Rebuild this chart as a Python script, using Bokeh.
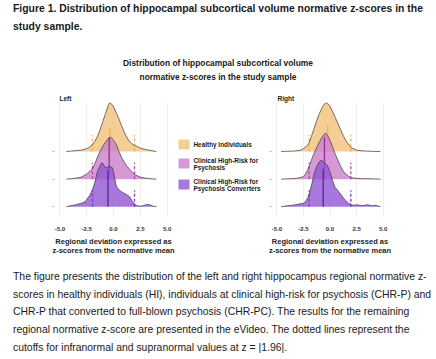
import numpy as np
from bokeh.plotting import figure
from bokeh.models import Div, FixedTicker, Range1d, PrintfTickFormatter
from bokeh.core.properties import value
from bokeh.layouts import column, row
from bokeh.embed import file_html
from bokeh.resources import INLINE

# ---------------- data ----------------
groups = ["Healthy Individuals",
          "Clinical High-Risk for\nPsychosis",
          "Clinical High-Risk for\nPsychosis Converters"]
group_rows = [2, 1, 0]
x_ticks = [-5.0, -2.5, 0.0, 2.5, 5.0]
cutoff = 1.96
cutoff_height = 0.145

# Left hippocampus: z grid and density per group
left_hi_z = [-4.4, -4.0, -3.5, -3.0, -2.5, -2.25, -2.0, -1.75, -1.5, -1.25, -1.0, -0.75, -0.5, -0.35,
             -0.25, 0.0, 0.25, 0.5, 0.75, 1.0, 1.25, 1.5, 1.75, 2.0, 2.5, 3.0, 3.5, 4.0]
left_hi_d = [0, .004, .009, .013, .026, .039, .057, .088, .132, .193, .263, .333, .404, .430,
             .425, .395, .342, .289, .228, .171, .123, .088, .066, .053, .031, .018, .009, 0]

left_chrp_z = [-4.4, -4.0, -3.5, -3.0, -2.5, -2.0, -1.75, -1.5, -1.25, -1.0, -0.75, -0.5, -0.25,
               0.0, 0.25, 0.5, 0.75, 1.0, 1.25, 1.5, 1.75, 2.0, 2.5, 3.0, 3.5, 4.0]
left_chrp_d = [0, .004, .009, .018, .044, .088, .132, .193, .246, .289, .325, .355, .368,
               .342, .307, .246, .193, .149, .114, .088, .061, .039, .018, .009, .004, 0]

left_chrpc_z = [-4.4, -4.0, -3.5, -3.0, -2.75, -2.5, -2.25, -2.0, -1.75, -1.5, -1.25, -1.1, -1.0,
                -0.75, -0.5, -0.25, -0.1, 0.0, 0.25, 0.5, 0.75, 1.0, 1.25, 1.5, 1.75, 2.0, 2.25,
                2.5, 2.75, 3.0, 3.25, 3.5, 3.75, 4.0]
left_chrpc_d = [0, .009, .018, .031, .039, .061, .096, .140, .211, .307, .360, .386, .382,
                .342, .351, .351, .342, .307, .184, .149, .132, .118, .105, .088, .048, .018, .009,
                .004, .009, .018, .019, .013, .003, 0]

left_medians = [-0.32, -0.40, -0.52]
left_median_tops = [0.21, 0.365, 0.325]

# Right hippocampus
right_hi_z = [-4.6, -4.0, -3.5, -3.0, -2.75, -2.5, -2.25, -2.0, -1.75, -1.5, -1.25, -1.0, -0.75,
              -0.5, -0.35, -0.25, 0.0, 0.25, 0.5, 0.75, 1.0, 1.25, 1.5, 1.75, 2.0, 2.5, 3.0, 3.5,
              4.0, 4.75]
right_hi_d = [0, .003, .004, .009, .013, .026, .044, .070, .132, .202, .272, .333, .386,
              .421, .430, .425, .395, .351, .298, .246, .193, .140, .096, .061, .035, .013, .007,
              .004, .002, 0]

right_chrp_z = [-4.6, -4.0, -3.5, -3.0, -2.5, -2.25, -2.0, -1.75, -1.5, -1.25, -1.0, -0.75, -0.5,
                -0.35, -0.25, 0.0, 0.25, 0.5, 0.75, 1.0, 1.25, 1.5, 1.75, 2.0, 2.5, 3.0, 3.5,
                4.0, 4.75]
right_chrp_d = [0, .003, .005, .009, .022, .053, .105, .167, .228, .281, .325, .368, .399,
                .399, .386, .342, .281, .219, .167, .114, .070, .044, .026, .013, .007, .004,
                .004, .003, 0]

right_chrpc_z = [-4.6, -4.0, -3.5, -3.0, -2.5, -2.25, -2.0, -1.75, -1.5, -1.25, -1.0, -0.85,
                 -0.75, -0.5, -0.25, 0.0, 0.25, 0.5, 0.75, 1.0, 1.25, 1.5, 1.75, 2.0, 2.25, 2.5,
                 2.75, 3.0, 3.25, 3.5, 3.75, 4.0, 4.25, 4.5, 4.75]
right_chrpc_d = [0, .009, .013, .022, .031, .053, .096, .184, .289, .351, .395, .408,
                 .404, .386, .364, .307, .228, .167, .140, .110, .079, .053, .031, .018, .013,
                 .018, .013, .009, .013, .018, .013, .009, .013, .007, 0]

right_medians = [-0.22, -0.52, -0.64]
right_median_tops = [0.228, 0.368, 0.333]

title_lines = ["Figure 1. Distribution of hippocampal subcortical volume normative z-scores in the",
               "study sample."]
chart_title_lines = ["Distribution of hippocampal subcortical volume",
                     "normative z-scores in the study sample"]
x_label = "Regional deviation expressed as\nz-scores from the normative mean"
caption_lines = [
    "The figure presents the distribution of the left and right hippocampus regional normative z-",
    "scores in healthy individuals (HI), individuals at clinical high-risk for psychosis (CHR-P) and",
    "CHR-P that converted to full-blown psychosis (CHR-PC). The results for the remaining",
    "regional normative z-score are presented in the eVideo. The dotted lines represent the",
    "cutoffs for infranormal and supranormal values at z = |1.96|.",
]

# ---------------- styles ----------------
FONT = "Liberation Sans"
RIDGE_SCALE = 4.13
fills = ["#F2C27A", "#CC80CC", "#9155D5"]
median_cols = ["#F2B04E", "#952C95", "#5B2597"]
dash_cols = ["#F0B050", "#B448B4", "#7A3CC6"]
FRAME_H, B_TOP, B_BOT = 115, 14, 38


def ridge_panel(title, zs, ds, medians, med_tops, b_left, f_width, b_right, t_off):
    p = figure(frame_width=f_width, frame_height=FRAME_H,
               min_border_left=b_left, min_border_right=b_right,
               min_border_top=B_TOP, min_border_bottom=B_BOT,
               x_range=Range1d(-5.5, 5.5), y_range=Range1d(-0.39, 3.78),
               output_backend="svg", toolbar_location=None, margin=0)
    p.outline_line_color = None
    p.title.text = title
    p.title.text_font = FONT
    p.title.text_font_size = "6.5px"
    p.title.text_font_style = "bold"
    p.title.text_color = "#222222"
    p.title.align = "left"
    p.title.offset = t_off
    p.title.standoff = 1

    xa = p.xaxis[0]
    xa.ticker = FixedTicker(ticks=x_ticks)
    xa.formatter = PrintfTickFormatter(format="%.1f")
    xa.axis_line_color = None
    xa.major_tick_line_color = None
    xa.minor_tick_line_color = None
    xa.major_tick_out = 0
    xa.major_tick_in = 0
    xa.minor_tick_out = 0
    xa.major_label_text_font = FONT
    xa.major_label_text_font_size = "6px"
    xa.major_label_text_font_style = "bold"
    xa.major_label_text_color = "#333333"
    xa.major_label_standoff = 9
    xa.axis_label = x_label
    xa.axis_label_text_font = FONT
    xa.axis_label_text_font_size = "7.5px"
    xa.axis_label_text_font_style = "bold"
    xa.axis_label_text_color = "#222222"
    xa.axis_label_standoff = 3
    xa.axis_label_text_line_height = 1.1

    ya = p.yaxis[0]
    ya.ticker = FixedTicker(ticks=group_rows)
    ya.axis_line_color = None
    ya.major_label_overrides = {0: " ", 1: " ", 2: " "}
    ya.major_label_text_font_size = "1px"
    ya.major_label_standoff = 0
    ya.major_tick_out = 2
    ya.major_tick_in = 0
    ya.minor_tick_out = 0
    ya.major_tick_line_color = "#b5b5b5"
    ya.minor_tick_line_color = None

    p.xgrid.grid_line_color = "#e6e6e6"
    p.xgrid.grid_line_width = 0.6
    p.ygrid.grid_line_color = None

    for i in range(3):
        base = group_rows[i]
        z = np.array(zs[i], dtype=float)
        top = base + np.array(ds[i], dtype=float) * RIDGE_SCALE
        p.varea(x=z, y1=np.full_like(z, base), y2=top,
                fill_color=fills[i], fill_alpha=0.8)
        p.segment(x0=[-cutoff, cutoff], y0=[base, base],
                  x1=[-cutoff, cutoff], y1=[base + cutoff_height * RIDGE_SCALE] * 2,
                  line_color=dash_cols[i], line_width=1.3, line_dash="3 2")
        p.segment(x0=[medians[i]], y0=[base], x1=[medians[i]],
                  y1=[base + med_tops[i] * RIDGE_SCALE],
                  line_color=median_cols[i], line_width=1.3)
        p.line(z, top, line_color="#3a3a3a", line_width=0.7)
    return p


pl = ridge_panel("Left", [left_hi_z, left_chrp_z, left_chrpc_z],
                 [left_hi_d, left_chrp_d, left_chrpc_d],
                 left_medians, left_median_tops, 54, 118, 4, 5)
pr = ridge_panel("Right", [right_hi_z, right_chrp_z, right_chrpc_z],
                 [right_hi_d, right_chrp_d, right_chrpc_d],
                 right_medians, right_median_tops, 5, 117, 48, 6)

# legend panel: same frame geometry as the ridge panels, pixel-like coords, y downwards
LEG_W = 90
lf = figure(frame_width=LEG_W, frame_height=FRAME_H, min_border_left=0, min_border_right=0,
            min_border_top=B_TOP, min_border_bottom=B_BOT, title=None,
            x_range=Range1d(0, LEG_W), y_range=Range1d(FRAME_H, 0),
            x_axis_type=None, y_axis_type=None,
            output_backend="svg", toolbar_location=None, margin=0)
lf.outline_line_color = None
lf.xgrid.visible = False
lf.ygrid.visible = False

leg_top, leg_gap, line_h, sw_w, sw_h, sw_x, txt_x = 37, 7, 7, 11, 10, 2, 17
sw_cx, sw_cy, t_x, t_y, t_s = [], [], [], [], []
cur = leg_top
for g in groups:
    lines = g.split("\n")
    h = max(sw_h, line_h * len(lines))
    cy = cur + h / 2
    sw_cx.append(sw_x + sw_w / 2)
    sw_cy.append(cy)
    for k, ln in enumerate(lines):
        t_x.append(txt_x)
        t_y.append(cy + (k - (len(lines) - 1) / 2) * line_h)
        t_s.append(ln)
    cur += h + leg_gap
lf.rect(x=sw_cx, y=sw_cy, width=sw_w, height=sw_h, fill_color=fills,
        fill_alpha=0.8, line_color=None)
lf.text(x=t_x, y=t_y, text=t_s, text_font=value(FONT), text_font_size="6.4px",
        text_font_style="bold", text_color="#1a1a1a", text_baseline="middle",
        text_align="left")

# text blocks
header_html = (
    '<div style="position:relative;width:436px;height:88px;">'
    f'<div style="position:absolute;left:13px;top:-0.5px;white-space:nowrap;font-family:\'{FONT}\';'
    'font-weight:bold;font-size:10.4px;line-height:18.8px;color:#1a1a1a;">'
    + "<br>".join(title_lines) + '</div>'
    f'<div style="position:absolute;left:0;top:55.5px;width:436px;text-align:center;white-space:nowrap;'
    f'font-family:\'{FONT}\';font-weight:bold;font-size:8.4px;line-height:14px;color:#1a1a1a;">'
    + "<br>".join(chart_title_lines) + '</div></div>'
)
header = Div(text=header_html, width=436, height=88, margin=0,
             styles={"overflow": "visible"})

caption_html = (
    '<div style="position:relative;width:436px;height:104px;">'
    f'<div style="position:absolute;left:13px;top:10.3px;white-space:nowrap;font-family:\'{FONT}\';'
    'font-size:10.4px;line-height:17.6px;color:#1a1a1a;">'
    + "<br>".join(caption_lines) + '</div></div>'
)
caption = Div(text=caption_html, width=436, height=104, margin=0,
              styles={"overflow": "visible"})

layout = column(header, row(pl, lf, pr, spacing=0), caption, spacing=0)

open("out.html", "w").write(file_html(layout, INLINE))
